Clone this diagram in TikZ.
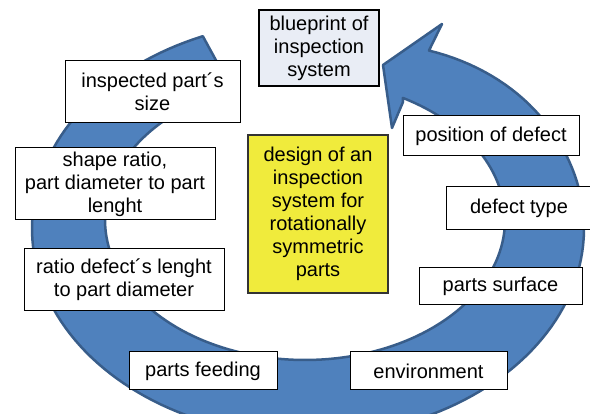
\documentclass[tikz,border=0pt]{standalone}
\usepackage{fontspec}
\setmainfont{Liberation Sans}
\definecolor{ringfill}{RGB}{79,129,189}
\definecolor{ringline}{RGB}{56,93,138}
\definecolor{bpfill}{RGB}{233,237,245}
\definecolor{yfill}{RGB}{240,235,60}
\begin{document}
\begin{tikzpicture}[x=1pt,y=-1pt,
  ring/.style={fill=ringfill, draw=ringline, line width=2.5pt, line join=round},
  lbl/.style={draw=black, line width=1pt, fill=white, align=center,
    font=\fontsize{20}{23}\selectfont, inner sep=0pt},
  bpbox/.style={lbl, fill=bpfill, line width=2.2pt},
  ybox/.style={lbl, fill=yfill, draw=black!80, line width=1.5pt}]
\useasboundingbox (0,0) rectangle (590,414);
\clip (0,0) rectangle (590,414);
% circular arrow
\draw[ring] plot[domain=112.4:424, samples=160]
    ({308+276*cos(\x)},{228.5-208*sin(\x)+9*pow(max(0,(\x-390)/34),2)})
  -- (442,24) -- (383,65) -- (392,128) -- (403,102)
  -- plot[domain=420.7:111.4, samples=160] ({305+200*cos(\x)},{220-140*sin(\x)})
  -- cycle;
% boxes
\node[bpbox, minimum width=120pt, minimum height=76pt] (bp) at (319,48) {blueprint of\\inspection\\system};
\node[lbl, minimum width=175pt, minimum height=62pt] (size) at (152.5,92) {inspected part´s\\size};
\node[lbl, minimum width=200pt, minimum height=72pt] (shape) at (115,184) {shape ratio,\\part diameter to part\\lenght};
\node[lbl, minimum width=200pt, minimum height=62pt] (ratio) at (124,280) {ratio defect´s lenght\\to part diameter};
\node[ybox, minimum width=140pt, minimum height=158pt] (design) at (318,214) {design of an\\inspection\\system for\\rotationally\\symmetric\\parts};
\node[lbl, minimum width=176pt, minimum height=40pt] (pos) at (491,136) {position of defect};
\node[lbl, minimum width=146pt, minimum height=43pt] (type) at (519,208.5) {defect type};
\node[lbl, minimum width=163pt, minimum height=37pt] (surf) at (500.5,286.5) {parts surface};
\node[lbl, minimum width=148pt, minimum height=38pt] (feed) at (203,371) {parts feeding};
\node[lbl, minimum width=157pt, minimum height=38pt] (env) at (428.5,371) {environment};
\end{tikzpicture}
\end{document}
